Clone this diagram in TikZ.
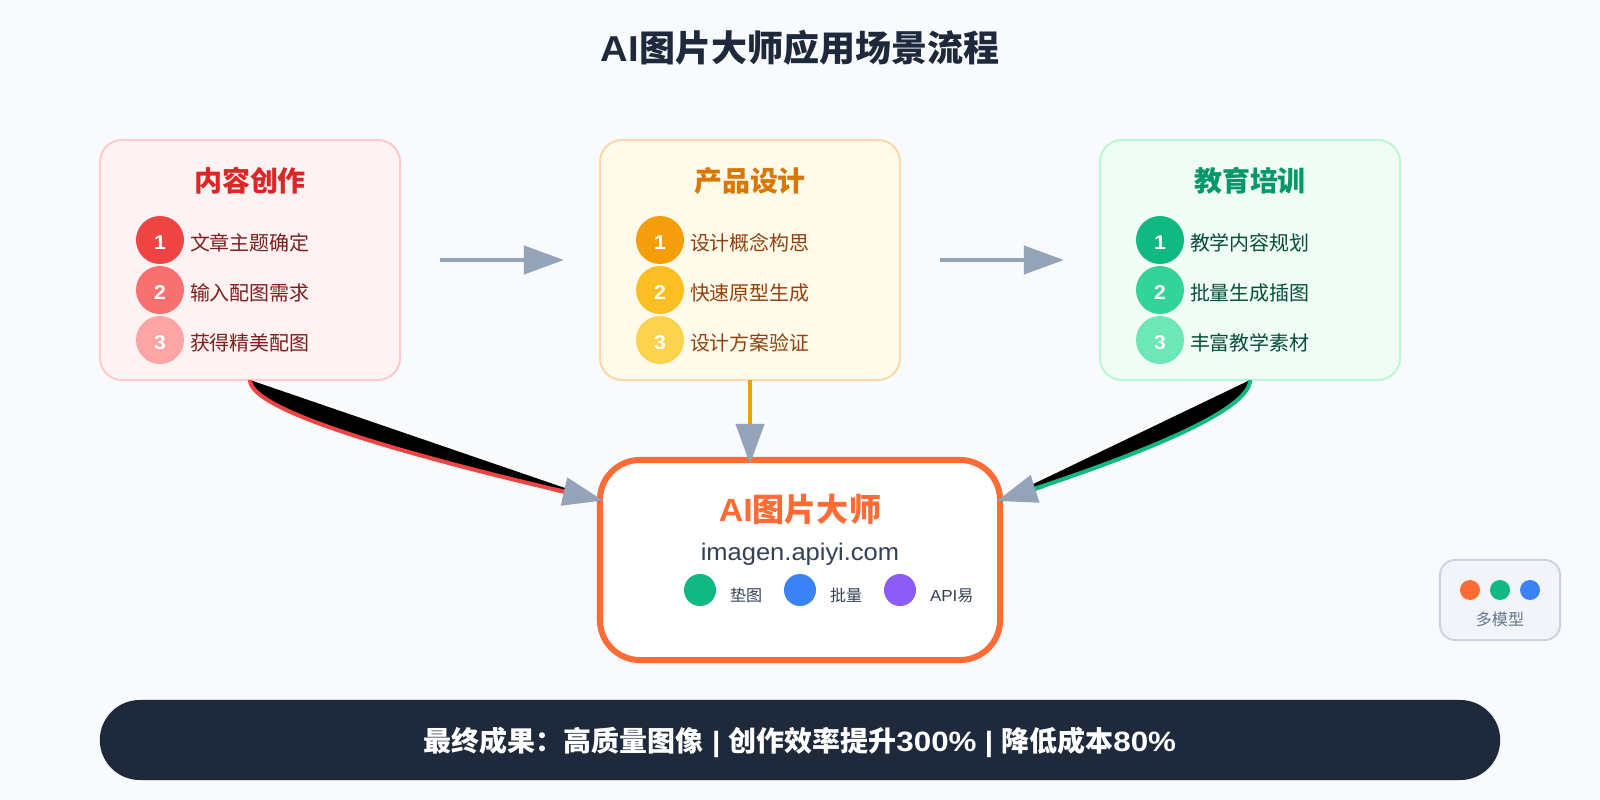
\documentclass[tikz,border=0pt]{standalone}
\usepackage{fontspec}
\usetikzlibrary{arrows.meta}
\setmainfont{Liberation Sans}[FakeStretch=1.06]
\newfontfamily\cjk{Noto Sans CJK SC}
\newfontfamily\barnum{Liberation Sans}[FakeStretch=1.12]
\definecolor{pagebg}{HTML}{F8FAFC}
\definecolor{tipgray}{HTML}{94A3B8}
\definecolor{darkbar}{HTML}{1E293B}
\definecolor{slatetext}{HTML}{334155}
\definecolor{orangemain}{HTML}{FF6B35}
\definecolor{redA}{HTML}{EF4444}
\definecolor{redB}{HTML}{F87171}
\definecolor{redC}{HTML}{FCA5A5}
\definecolor{redfill}{HTML}{FEF2F2}
\definecolor{redline}{HTML}{FECACA}
\definecolor{redhead}{HTML}{DC2626}
\definecolor{redtext}{HTML}{7F1D1D}
\definecolor{amberA}{HTML}{F59E0B}
\definecolor{amberB}{HTML}{FBBF24}
\definecolor{amberC}{HTML}{FCD34D}
\definecolor{amberfill}{HTML}{FFFBEB}
\definecolor{amberline}{HTML}{FED7AA}
\definecolor{amberhead}{HTML}{D97706}
\definecolor{ambertext}{HTML}{92400E}
\definecolor{greenA}{HTML}{10B981}
\definecolor{greenB}{HTML}{34D399}
\definecolor{greenC}{HTML}{6EE7B7}
\definecolor{greenfill}{HTML}{F0FDF4}
\definecolor{greenline}{HTML}{BBF7D0}
\definecolor{greenhead}{HTML}{059669}
\definecolor{greentext}{HTML}{064E3B}
\definecolor{blueA}{HTML}{3B82F6}
\definecolor{purpleA}{HTML}{8B5CF6}
\definecolor{badgefill}{HTML}{F1F5F9}
\definecolor{badgeline}{HTML}{CBD5E1}
\definecolor{badgetext}{HTML}{64748B}
\begin{document}
\begin{tikzpicture}[x=0.025cm, y=-0.025cm,
	every node/.style={inner sep=0pt, outer sep=0pt},
	card/.style={rectangle, draw, line width=0.05cm, rounded corners=0.55cm, minimum width=7.5cm, minimum height=6cm},
	cardtitle/.style={anchor=base, font=\fontsize{19.9}{24}\selectfont\bfseries\cjk},
	stepdot/.style={circle, minimum size=1.2cm, text=white, text height=0.47cm, font=\fontsize{14.2}{17}\selectfont\bfseries},
	steptext/.style={anchor=base west, font=\fontsize{14.2}{17}\selectfont\cjk},
	dot/.style={circle, minimum size=0.8cm},
	minidot/.style={circle, minimum size=0.5cm},
	legend/.style={anchor=base west, text=slatetext, font=\fontsize{11.4}{14}\selectfont},
	curveline/.style={line width=0.1cm, fill=black},
	flow/.style={line width=0.1cm, -{Triangle[length=1cm, width=0.7cm, color=tipgray]}}]
	\useasboundingbox (0,0) rectangle (1600,800);
	\fill[pagebg] (0,0) rectangle (1600,800);
	\node[anchor=base] (title) at (800,62) {\fontsize{25.6}{30}\selectfont\bfseries\color{darkbar}AI{\cjk 图片大师应用场景流程}};

	% three scenario cards
	\node[card, draw=redline, fill=redfill] (A) at (250,260) {};
	\node[card, draw=amberline, fill=amberfill] (B) at (750,260) {};
	\node[card, draw=greenline, fill=greenfill] (C) at (1250,260) {};
	\node[cardtitle, text=redhead] (At) at (250,191.5) {内容创作};
	\node[cardtitle, text=amberhead] (Bt) at (750,191.5) {产品设计};
	\node[cardtitle, text=greenhead] (Ct) at (1250,191.5) {教育培训};

	\node[stepdot, fill=redA] (A1) at (160,240) {1};
	\node[stepdot, fill=redB] (A2) at (160,290) {2};
	\node[stepdot, fill=redC] (A3) at (160,340) {3};
	\node[steptext, text=redtext] (A1t) at (190,251) {文章主题确定};
	\node[steptext, text=redtext] (A2t) at (190,301) {输入配图需求};
	\node[steptext, text=redtext] (A3t) at (190,351) {获得精美配图};

	\node[stepdot, fill=amberA] (B1) at (660,240) {1};
	\node[stepdot, fill=amberB] (B2) at (660,290) {2};
	\node[stepdot, fill=amberC] (B3) at (660,340) {3};
	\node[steptext, text=ambertext] (B1t) at (690,251) {设计概念构思};
	\node[steptext, text=ambertext] (B2t) at (690,301) {快速原型生成};
	\node[steptext, text=ambertext] (B3t) at (690,351) {设计方案验证};

	\node[stepdot, fill=greenA] (C1) at (1160,240) {1};
	\node[stepdot, fill=greenB] (C2) at (1160,290) {2};
	\node[stepdot, fill=greenC] (C3) at (1160,340) {3};
	\node[steptext, text=greentext] (C1t) at (1190,251) {教学内容规划};
	\node[steptext, text=greentext] (C2t) at (1190,301) {批量生成插图};
	\node[steptext, text=greentext] (C3t) at (1190,351) {丰富教学素材};

	% centre card
	\node[rectangle, draw=orangemain, fill=white, line width=0.15cm, rounded corners=1cm, minimum width=10cm, minimum height=5cm] (M) at (800,560) {};
	\node[anchor=base, text=orangemain, font=\fontsize{22.8}{27}\selectfont\bfseries] (Mt) at (800,521) {AI{\cjk 图片大师}};
	\node[anchor=base, text=slatetext, font=\fontsize{17.1}{20}\selectfont] (Mu) at (800,560) {imagen.apiyi.com};
	\node[dot, fill=greenA] (M1) at (700,590) {};
	\node[dot, fill=blueA] (M2) at (800,590) {};
	\node[dot, fill=purpleA] (M3) at (900,590) {};
	\node[legend] (M1t) at (730,601) {\cjk 垫图};
	\node[legend] (M2t) at (830,601) {\cjk 批量};
	\node[legend] (M3t) at (930,601) {API{\cjk 易}};

	% connectors
	\coordinate (Aend) at (600,500);
	\coordinate (Aneck) at (555,489.5);
	\coordinate (Ain) at (603,500.5);
	\coordinate (Bin) at (750,464);
	\coordinate (Cend) at (1000,500);
	\coordinate (Cneck) at (1044,486);
	\coordinate (Cin) at (997,501);
	\draw[flow, draw=tipgray, shorten <=1cm, shorten >=0.9cm] (A.east) -- (B.west);
	\draw[flow, draw=tipgray, shorten <=1cm, shorten >=0.9cm] (B.east) -- (C.west);
	\draw[curveline, draw=redA] (A.south) .. controls (250,406.7) and (366.7,446.7) .. (Aend);
	\draw[flow, draw=redA] (Aneck) -- (Ain);
	\draw[flow, draw=amberA] (B.south) -- (Bin);
	\draw[curveline, draw=greenA] (C.south) .. controls (1250,406.7) and (1166.7,446.7) .. (Cend);
	\draw[flow, draw=greenA] (Cneck) -- (Cin);

	% badge
	\node[rectangle, draw=badgeline, fill=badgefill, line width=0.05cm, rounded corners=0.375cm, minimum width=3cm, minimum height=2cm] (badge) at (1500,600) {};
	\node[minidot, fill=orangemain] (d1) at (1470,590) {};
	\node[minidot, fill=greenA] (d2) at (1500,590) {};
	\node[minidot, fill=blueA] (d3) at (1530,590) {};
	\node[anchor=base, text=badgetext, font=\fontsize{11.4}{14}\selectfont\cjk] (badget) at (1500,625) {多模型};

	% bottom bar
	\node[rectangle, fill=darkbar, rounded corners=1cm, minimum width=35cm, minimum height=2cm] (bar) at (800,740) {};
	\node[anchor=base, text=white, font=\fontsize{19.9}{24}\selectfont\bfseries] (bart) at (800,751) {{\cjk 最终成果：}{\cjk 高质量图像} | {\cjk 创作效率提升}{\barnum 300\%} | {\cjk 降低成本}{\barnum 80\%}};
\end{tikzpicture}
\end{document}
